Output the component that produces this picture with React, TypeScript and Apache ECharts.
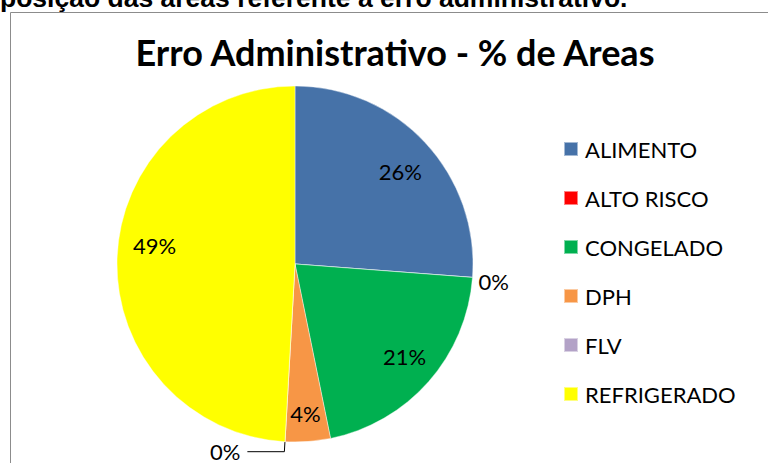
import React, { useEffect, useRef } from "react";
import * as echarts from "echarts";

const categories = ["ALIMENTO", "ALTO RISCO", "CONGELADO", "DPH", "FLV", "REFRIGERADO"];
const values = [26.2, 0, 20.6, 4.1, 0, 49.1];
const colors = ["#4672A8", "#FF0000", "#00B050", "#F79646", "#B3A2C7", "#FFFF00"];
const labelNudges = [[0, 5], [0, 4], [2, -2], [0, 6], [-3, 0], [3, -14]];
const titleText = "Erro Administrativo - % de Areas";
const headerText = "posição das áreas referente a erro administrativo.";

const FONT = "Lato, 'Open Sans', sans-serif";

export default function App() {
  const ref = useRef<HTMLDivElement>(null);
  useEffect(() => {
    if (!ref.current) return;
    const chart = echarts.init(ref.current, undefined, { renderer: "svg" });
    const baseData = categories.map((name, i) => ({
      name,
      value: values[i],
      itemStyle: { color: colors[i] },
    }));
    chart.setOption({
      animation: false,
      backgroundColor: "#ffffff",
      title: {
        text: titleText,
        left: 390,
        top: 29,
        textAlign: "center",
        textStyle: { fontFamily: FONT, fontWeight: "bold", fontSize: 36, color: "#000" },
      },
      legend: {
        orient: "vertical",
        left: 563,
        top: 138,
        padding: 0,
        icon: "rect",
        itemWidth: 14,
        itemHeight: 14,
        itemGap: 27,
        data: categories,
        textStyle: {
          fontFamily: FONT,
          fontSize: 22,
          color: "#000",
          lineHeight: 22,
          padding: [0, 0, 0, 2],
        },
      },
      graphic: [
        {
          type: "rect",
          shape: { x: 10.5, y: 12.5, width: 1000, height: 1000 },
          style: { fill: "none", stroke: "#8c8c8c", lineWidth: 1 },
          silent: true,
        },
        {
          type: "text",
          x: 0,
          y: 11,
          style: {
            text: headerText,
            fontFamily: "'Liberation Sans', Arial, sans-serif",
            fontWeight: "bold",
            fontSize: 26.5,
            fill: "#000",
            verticalAlign: "bottom",
          },
          silent: true,
        },
      ],
      series: [
        {
          type: "pie",
          center: [295, 264],
          radius: 178,
          startAngle: 90,
          clockwise: true,
          avoidLabelOverlap: false,
          percentPrecision: 0,
          itemStyle: { borderColor: "rgba(255,255,255,0.5)", borderWidth: 0.8 },
          label: {
            show: true,
            position: "outside",
            formatter: "{d}%",
            fontFamily: FONT,
            fontSize: 22,
            color: "#000",
            distanceToLabelLine: 4,
          },
          labelLine: { show: true, length: 10, length2: 37, lineStyle: { color: "#000", width: 1 } },
          data: baseData.map((d, i) => ({
            ...d,
            label: { show: d.value === 0, offset: labelNudges[i] },
            labelLine:
              d.name === "ALTO RISCO"
                ? { show: false, length: 2, length2: 0 }
                : { show: d.value === 0 },
          })),
        },
        {
          type: "pie",
          center: [295, 264],
          radius: [103, 178],
          startAngle: 90,
          clockwise: true,
          silent: true,
          percentPrecision: 0,
          itemStyle: { color: "rgba(0,0,0,0)" },
          label: {
            show: true,
            position: "inside",
            formatter: "{d}%",
            fontFamily: FONT,
            fontSize: 22,
            color: "#000",
          },
          labelLine: { show: false },
          data: baseData.map((d, i) => ({
            name: d.name,
            value: d.value,
            itemStyle: { color: "rgba(0,0,0,0)" },
            label: { show: d.value > 0, offset: labelNudges[i] },
          })),
        },
      ],
    });
    return () => chart.dispose();
  }, []);
  return (
    <div
      ref={ref}
      style={{ position: "fixed", left: 0, top: 0, width: 768, height: 463 }}
    />
  );
}
